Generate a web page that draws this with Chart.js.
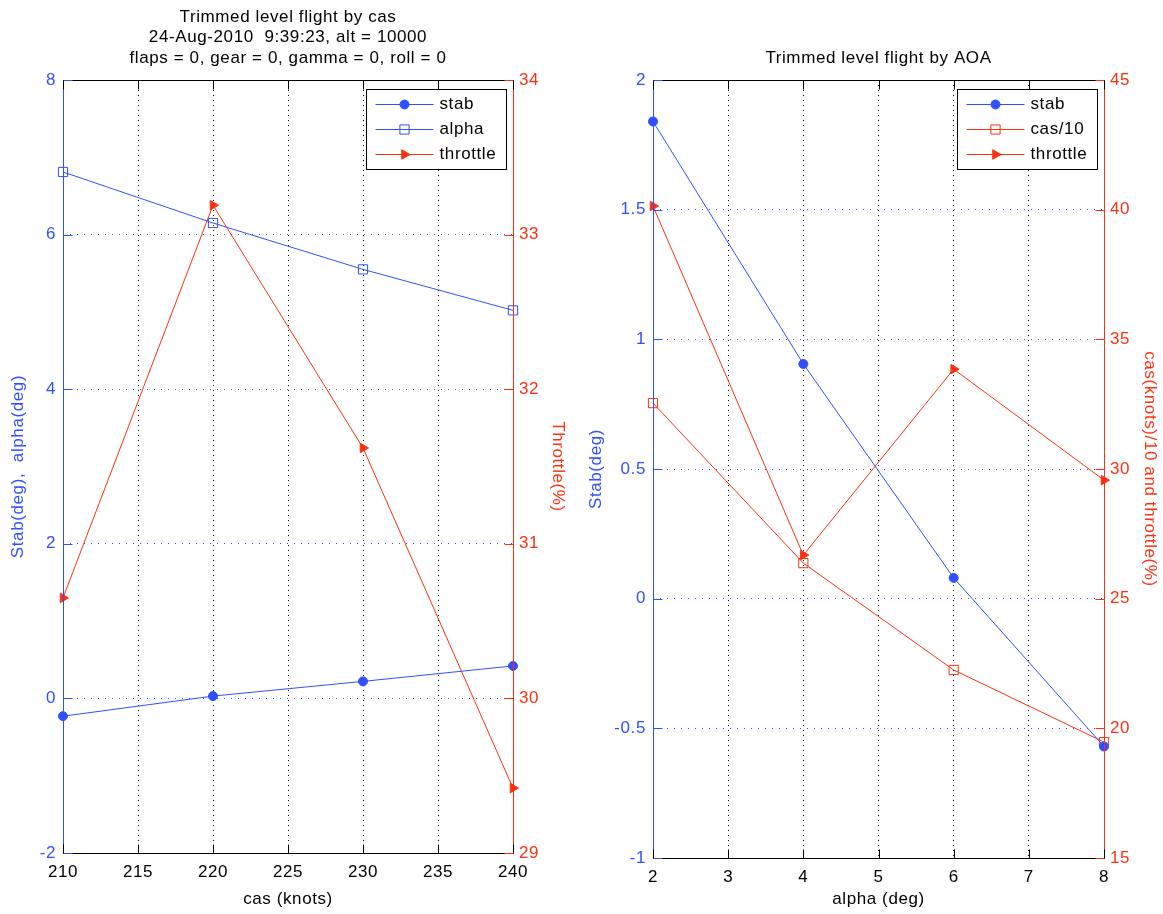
<!DOCTYPE html>
<html><head><meta charset="utf-8">
<script src="https://cdn.jsdelivr.net/npm/chart.js@4/dist/chart.umd.min.js"></script>
<style>
html,body{margin:0;padding:0;background:#fff;overflow:hidden}
#c1{position:absolute;left:0;top:0}
#c2{position:absolute;left:580px;top:0}
</style></head><body>
<canvas id="c1" width="580" height="914"></canvas>
<canvas id="c2" width="583" height="914"></canvas>
<script>
// ---- Left chart: trimmed level flight by cas ----
const casKnots = [210, 220, 230, 240];
const stabByCas = [-0.23, 0.03, 0.22, 0.42];
const alphaByCas = [6.81, 6.15, 5.55, 5.02];
const throttleByCas = [30.65, 33.19, 31.62, 29.42];
const leftTitle = ['Trimmed level flight by cas', '24-Aug-2010  9:39:23, alt = 10000', 'flaps = 0, gear = 0, gamma = 0, roll = 0'];
const leftXTicks = [210, 215, 220, 225, 230, 235, 240];
const leftYTicks = [-2, 0, 2, 4, 6, 8];
const leftY2Ticks = [29, 30, 31, 32, 33, 34];

// ---- Right chart: trimmed level flight by AOA ----
const alphaDeg = [2, 4, 6, 8];
const stabByAoa = [1.84, 0.905, 0.08, -0.57];
const casDiv10 = [32.54, 26.37, 22.25, 19.47];
const throttleByAoa = [40.14, 26.68, 33.85, 29.57];
const rightTitle = ['Trimmed level flight by AOA'];
const rightXTicks = [2, 3, 4, 5, 6, 7, 8];
const rightYTicks = [-1, -0.5, 0, 0.5, 1, 1.5, 2];
const rightY2Ticks = [15, 20, 25, 30, 35, 40, 45];

const BLUE = '#3050ff', RED = '#ff3010';
const FONT = '"Liberation Sans", Arial, Helvetica, sans-serif';
const SPACING = '0.6px';
Chart.defaults.font.family = FONT;
Chart.defaults.color = '#000';

function pts(xs, ys) { return xs.map((x, i) => ({x: x, y: ys[i]})); }

const STYLES = {
  stab: {pointStyle: 'circle', radius: 4.5, rotation: 0, fill: true},
  square: {pointStyle: 'rect', radius: 6.5, rotation: 0, fill: false},
  tri: {pointStyle: 'triangle', radius: 5.5, rotation: 90, fill: true}
};

function ds(label, data, color, st, axis) {
  const s = STYLES[st];
  return {
    label: label, data: data, yAxisID: axis,
    borderColor: color, borderWidth: 1,
    backgroundColor: s.fill ? color : 'rgba(0,0,0,0)',
    pointStyle: s.pointStyle, pointRadius: s.radius, pointRotation: s.rotation,
    pointBorderColor: color, pointBackgroundColor: s.fill ? color : 'rgba(0,0,0,0)',
    pointBorderWidth: 1, pointHoverRadius: s.radius,
    tension: 0, clip: false
  };
}

const framePlugin = {
  id: 'mframe',
  beforeUpdate(chart) { chart.ctx.letterSpacing = SPACING; },
  beforeDraw(chart) { chart.ctx.letterSpacing = SPACING; },
  afterDatasetsDraw(chart, args, o) {
    const ctx = chart.ctx, a = chart.chartArea;
    const L = Math.round(a.left) + 0.5, R = Math.round(a.right) + 0.5;
    const T = Math.round(a.top) + 0.5, B = Math.round(a.bottom) + 0.5;
    const TL = 9;
    ctx.save();
    ctx.lineWidth = 1;
    ctx.strokeStyle = '#000';
    ctx.beginPath(); ctx.moveTo(L, T); ctx.lineTo(R, T); ctx.moveTo(L, B); ctx.lineTo(R, B); ctx.stroke();
    ctx.strokeStyle = BLUE;
    ctx.beginPath(); ctx.moveTo(L, T); ctx.lineTo(L, B); ctx.stroke();
    ctx.strokeStyle = RED;
    ctx.beginPath(); ctx.moveTo(R, T); ctx.lineTo(R, B); ctx.stroke();
    const sy = chart.scales.y, sy2 = chart.scales.y2, sx = chart.scales.x;
    ctx.strokeStyle = BLUE;
    ctx.beginPath();
    sy.ticks.forEach(t => { const p = Math.round(sy.getPixelForValue(t.value)) + 0.5; ctx.moveTo(L, p); ctx.lineTo(L + TL, p); });
    ctx.stroke();
    ctx.strokeStyle = RED;
    ctx.beginPath();
    sy2.ticks.forEach(t => { const p = Math.round(sy2.getPixelForValue(t.value)) + 0.5; ctx.moveTo(R, p); ctx.lineTo(R - TL, p); });
    ctx.stroke();
    ctx.strokeStyle = '#000';
    ctx.beginPath();
    sx.ticks.forEach(t => { const p = Math.round(sx.getPixelForValue(t.value)) + 0.5; ctx.moveTo(p, B); ctx.lineTo(p, B - TL); ctx.moveTo(p, T); ctx.lineTo(p, T + TL); });
    ctx.stroke();
    ctx.restore();
  },
  afterDraw(chart, args, o) {
    const ctx = chart.ctx, a = chart.chartArea;
    ctx.save();
    ctx.letterSpacing = SPACING;
    ctx.fillStyle = '#000';
    ctx.font = '17px ' + FONT;
    ctx.textAlign = 'center'; ctx.textBaseline = 'middle';
    const cx = (a.left + a.right) / 2, n = o.title.length;
    o.title.forEach((line, i) => ctx.fillText(line, cx, a.top - 22 - (n - 1 - i) * 20.5));
    const bw = 140, bh = 80;
    const bx = Math.round(a.right - 7 - bw) + 0.5, by = Math.round(a.top + 9) + 0.5;
    ctx.fillStyle = '#fff';
    ctx.fillRect(bx, by, bw, bh);
    ctx.strokeStyle = '#000'; ctx.lineWidth = 1;
    ctx.strokeRect(bx, by, bw, bh);
    o.legend.forEach((it, i) => {
      const y = by + 15 + i * 25;
      const x0 = bx + 9, x1 = bx + 67, xm = (x0 + x1) / 2;
      ctx.strokeStyle = it.color; ctx.lineWidth = 1;
      ctx.beginPath(); ctx.moveTo(x0, y); ctx.lineTo(x1, y); ctx.stroke();
      const s = STYLES[it.style];
      ctx.fillStyle = s.fill ? it.color : 'rgba(0,0,0,0)';
      Chart.helpers.drawPoint(ctx, {pointStyle: s.pointStyle, radius: s.radius, rotation: s.rotation, borderWidth: 1}, xm, y);
      ctx.fillStyle = '#000';
      ctx.font = '17px ' + FONT;
      ctx.textAlign = 'left'; ctx.textBaseline = 'middle';
      ctx.fillText(it.label, bx + 73, y);
    });
    ctx.restore();
  }
};

function makeChart(id, cfg) {
  return new Chart(document.getElementById(id), {
    type: 'line',
    data: {datasets: cfg.datasets},
    plugins: [framePlugin],
    options: {
      responsive: false, animation: false, events: [],
      layout: {padding: {top: 80, left: 0, right: 0, bottom: 0}},
      plugins: {legend: {display: false}, tooltip: {enabled: false}, title: {display: false},
        mframe: {title: cfg.title, legend: cfg.legend}},
      scales: {
        x: {
          type: 'linear', min: cfg.xTicks[0], max: cfg.xTicks[cfg.xTicks.length - 1],
          afterBuildTicks: s => { s.ticks = cfg.xTicks.map(v => ({value: v})); },
          afterFit: s => { s.height = cfg.xH; },
          ticks: {color: '#000', font: {size: 17}, padding: 9, maxRotation: 0, autoSkip: false, callback: v => String(v)},
          grid: {color: '#000', lineWidth: 1, drawTicks: false},
          border: {display: false, dash: [1, 4]},
          title: {display: true, text: cfg.xTitle, color: '#000', font: {size: 17}, padding: {top: 0, bottom: 4}}
        },
        y: {
          type: 'linear', position: 'left', min: cfg.yTicks[0], max: cfg.yTicks[cfg.yTicks.length - 1],
          afterBuildTicks: s => { s.ticks = cfg.yTicks.map(v => ({value: v})); },
          afterFit: s => { s.width = cfg.yW; },
          ticks: {color: BLUE, font: {size: 17}, padding: 7, autoSkip: false, callback: v => String(v)},
          grid: {color: BLUE, lineWidth: 1, drawTicks: false},
          border: {display: false, dash: [1, 6]},
          title: {display: true, text: cfg.yTitle, color: BLUE, font: {size: 17}, padding: {top: cfg.yTP, bottom: 0}}
        },
        y2: {
          type: 'linear', position: 'right', min: cfg.y2Ticks[0], max: cfg.y2Ticks[cfg.y2Ticks.length - 1],
          afterBuildTicks: s => { s.ticks = cfg.y2Ticks.map(v => ({value: v})); },
          afterFit: s => { s.width = cfg.y2W; },
          ticks: {color: RED, font: {size: 17}, padding: 6, autoSkip: false, callback: v => String(v)},
          grid: {display: false, drawOnChartArea: false, drawTicks: false},
          border: {display: false},
          title: {display: true, text: cfg.y2Title, color: RED, font: {size: 17}, padding: {top: cfg.y2TP, bottom: 0}}
        }
      }
    }
  });
}

makeChart('c1', {
  datasets: [
    ds('stab', pts(casKnots, stabByCas), BLUE, 'stab', 'y'),
    ds('alpha', pts(casKnots, alphaByCas), BLUE, 'square', 'y'),
    ds('throttle', pts(casKnots, throttleByCas), RED, 'tri', 'y2')
  ],
  legend: [{label: 'stab', color: BLUE, style: 'stab'}, {label: 'alpha', color: BLUE, style: 'square'}, {label: 'throttle', color: RED, style: 'tri'}],
  title: leftTitle,
  xTicks: leftXTicks, yTicks: leftYTicks, y2Ticks: leftY2Ticks,
  xTitle: 'cas (knots)', yTitle: 'Stab(deg),  alpha(deg)', y2Title: 'Throttle(%)',
  xH: 61, yW: 63, y2W: 67, yTP: 8, y2TP: 12
});

makeChart('c2', {
  datasets: [
    ds('stab', pts(alphaDeg, stabByAoa), BLUE, 'stab', 'y'),
    ds('cas/10', pts(alphaDeg, casDiv10), RED, 'square', 'y2'),
    ds('throttle', pts(alphaDeg, throttleByAoa), RED, 'tri', 'y2')
  ],
  legend: [{label: 'stab', color: BLUE, style: 'stab'}, {label: 'cas/10', color: RED, style: 'square'}, {label: 'throttle', color: RED, style: 'tri'}],
  title: rightTitle,
  xTicks: rightXTicks, yTicks: rightYTicks, y2Ticks: rightY2Ticks,
  xTitle: 'alpha (deg)', yTitle: 'Stab(deg)', y2Title: 'cas(knots)/10 and throttle(%)',
  xH: 56, yW: 73, y2W: 59, yTP: 6, y2TP: 3
});
</script>
</body></html>
